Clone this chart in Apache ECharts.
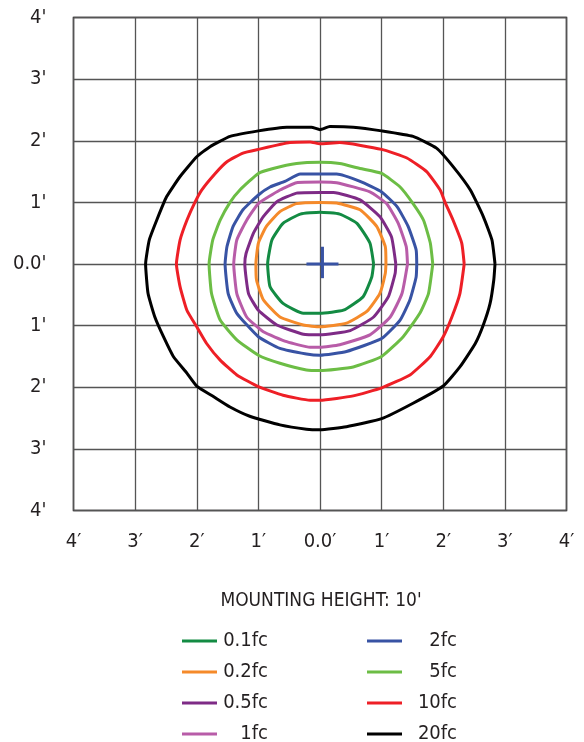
<!DOCTYPE html>
<html>
<head>
<meta charset="utf-8">
<script src="https://cdn.jsdelivr.net/npm/echarts@6/dist/echarts.min.js"></script>
<style>
  html, body { margin: 0; padding: 0; background: #fff; }
  #chart { width: 584px; height: 742px; }
</style>
</head>
<body>
<div id="chart"></div>
<script>
// iso-footcandle contours, feet from fixture centre (x, y)
const fc01 = [[0.87,0],[0.81,0.34],[0.60,0.66],[0.32,0.81],[0,0.84],[-0.32,0.81],[-0.60,0.66],[-0.78,0.39],[-0.85,0],[-0.81,-0.37],[-0.60,-0.64],[-0.27,-0.80],[0,-0.80],[0.38,-0.75],[0.70,-0.53],[0.84,-0.21],[0.87,0]];
const fc02 = [[1.07,0],[1.06,0.28],[0.92,0.61],[0.65,0.88],[0.27,0.99],[0,1.0],[-0.38,0.98],[-0.65,0.85],[-0.87,0.61],[-1.0,0.34],[-1.04,0],[-1.03,-0.26],[-0.92,-0.58],[-0.65,-0.86],[-0.27,-0.99],[0,-1.02],[0.43,-0.96],[0.76,-0.77],[0.97,-0.48],[1.06,-0.15],[1.07,0]];
const fc05 = [[1.23,0],[1.16,0.44],[0.97,0.77],[0.65,1.04],[0.22,1.16],[0,1.16],[-0.38,1.15],[-0.70,1.01],[-0.92,0.77],[-1.08,0.50],[-1.20,0.17],[-1.22,0],[-1.16,-0.48],[-1.0,-0.75],[-0.70,-0.99],[-0.27,-1.14],[0,-1.15],[0.49,-1.08],[0.87,-0.86],[1.11,-0.53],[1.22,-0.15],[1.23,0]];
const fc1 = [[1.42,0],[1.40,0.28],[1.27,0.66],[1.08,0.98],[0.81,1.17],[0.27,1.32],[0,1.33],[-0.38,1.32],[-0.65,1.20],[-1.0,0.98],[-1.19,0.71],[-1.35,0.39],[-1.40,0],[-1.35,-0.48],[-1.19,-0.86],[-0.92,-1.10],[-0.54,-1.26],[-0.16,-1.35],[0,-1.35],[0.32,-1.31],[0.81,-1.15],[1.14,-0.86],[1.33,-0.48],[1.42,0]];
const fc2 = [[1.57,0],[1.56,0.23],[1.43,0.61],[1.25,0.93],[1.0,1.17],[0.65,1.34],[0.27,1.46],[0,1.46],[-0.32,1.46],[-0.57,1.34],[-0.81,1.25],[-1.0,1.12],[-1.25,0.88],[-1.41,0.61],[-1.51,0.28],[-1.54,0],[-1.49,-0.48],[-1.35,-0.80],[-1.0,-1.18],[-0.65,-1.37],[-0.22,-1.46],[0,-1.48],[0.43,-1.42],[1.0,-1.21],[1.30,-0.91],[1.46,-0.58],[1.56,-0.21],[1.57,0]];
const fc5 = [[1.83,0],[1.79,0.34],[1.68,0.71],[1.51,0.98],[1.30,1.25],[1.0,1.47],[0.65,1.55],[0.32,1.63],[0,1.65],[-0.38,1.63],[-0.76,1.55],[-1.0,1.47],[-1.30,1.20],[-1.46,1.0],[-1.62,0.71],[-1.74,0.39],[-1.80,0],[-1.76,-0.48],[-1.62,-0.91],[-1.35,-1.23],[-1.0,-1.48],[-0.65,-1.61],[-0.22,-1.72],[0,-1.73],[0.54,-1.67],[1.0,-1.50],[1.35,-1.18],[1.62,-0.80],[1.76,-0.48],[1.83,0]];
const fc10 = [[2.34,0],[2.30,0.34],[2.16,0.71],[2.03,1.0],[1.95,1.20],[1.73,1.50],[1.41,1.72],[1.0,1.86],[0.32,1.97],[0,1.95],[-0.16,1.98],[-0.49,1.97],[-1.0,1.86],[-1.25,1.80],[-1.51,1.66],[-1.70,1.47],[-1.92,1.20],[-2.03,1.0],[-2.16,0.71],[-2.27,0.39],[-2.33,0],[-2.27,-0.37],[-2.16,-0.75],[-2.0,-1.02],[-1.84,-1.29],[-1.62,-1.56],[-1.35,-1.80],[-1.0,-1.99],[-0.60,-2.13],[-0.16,-2.21],[0,-2.21],[0.54,-2.14],[1.0,-2.01],[1.46,-1.80],[1.79,-1.50],[2.0,-1.18],[2.14,-0.86],[2.27,-0.48],[2.34,0]];
const fc20 = [[2.84,0],[2.79,0.39],[2.65,0.77],[2.44,1.20],[2.16,1.58],[1.89,1.88],[1.51,2.07],[1.0,2.16],[0.54,2.22],[0.16,2.23],[0,2.18],[-0.14,2.22],[-0.54,2.22],[-1.0,2.16],[-1.46,2.07],[-1.79,1.90],[-2.0,1.74],[-2.27,1.42],[-2.49,1.09],[-2.65,0.71],[-2.77,0.39],[-2.83,0],[-2.79,-0.48],[-2.68,-0.86],[-2.54,-1.18],[-2.38,-1.50],[-2.16,-1.77],[-2.0,-1.98],[-1.73,-2.15],[-1.46,-2.32],[-1.14,-2.47],[-0.65,-2.61],[-0.22,-2.68],[0,-2.69],[0.43,-2.64],[1.0,-2.51],[1.51,-2.26],[2.0,-1.98],[2.27,-1.67],[2.52,-1.29],[2.65,-0.99],[2.76,-0.64],[2.82,-0.26],[2.84,0]];

const crossH = [[-0.22,0],[0.30,0]];
const crossV = [[0.04,0.28],[0.04,-0.23]];

const names = ["0.1fc", "0.2fc", "0.5fc", "1fc", "2fc", "5fc", "10fc", "20fc"];
const colors = ["#138b43", "#f58a2a", "#7e2b86", "#b85ca8", "#3853a4", "#6cbd45", "#ee1f26", "#000000"];
const contours = [fc01, fc02, fc05, fc1, fc2, fc5, fc10, fc20];
const title = "MOUNTING HEIGHT: 10'";

const FONT = "'Liberation Sans Narrow', 'DejaVu Sans Condensed', sans-serif";

const chart = echarts.init(document.getElementById("chart"));

const series = contours.map((pts, i) => ({
  name: names[i],
  type: "line",
  data: pts,
  smooth: 0.15,
  showSymbol: false,
  silent: true,
  z: 10 - i,
  lineStyle: { color: colors[i], width: 3 },
}));
[crossH, crossV].forEach((pts) => {
  series.push({
    type: "line",
    data: pts,
    showSymbol: false,
    silent: true,
    z: 20,
    lineStyle: { color: "#3853a4", width: 3 },
  });
});

// legend drawn by hand so the labels can sit right-aligned like the sheet
const legendEls = [];
names.forEach((n, i) => {
  const col = Math.floor(i / 4);
  const row = i % 4;
  const y = 641 + row * 31;
  const x0 = col === 0 ? 182 : 367;
  const tx = col === 0 ? 268 : 457;
  legendEls.push({
    type: "line",
    shape: { x1: x0, y1: y, x2: x0 + 35, y2: y },
    style: { stroke: colors[i], lineWidth: 3 },
  });
  legendEls.push({
    type: "text",
    x: tx,
    y: y,
    style: {
      text: n,
      fill: "#231f20",
      font: "20px " + FONT,
      align: "right",
      verticalAlign: "middle",
    },
  });
});
legendEls.push({
  type: "text",
  x: 321,
  y: 601,
  style: {
    text: title,
    fill: "#231f20",
    font: "19px " + FONT,
    align: "center",
    verticalAlign: "middle",
  },
});

const option = {
  animation: false,
  backgroundColor: "#fff",
  grid: {
    left: 73.5, right: 17.5, top: 17.5, bottom: 231.5,
    show: true, borderColor: "#231f20", borderWidth: 1.5,
  },
  xAxis: {
    type: "value",
    min: -4, max: 4, interval: 1,
    axisLine: { show: false },
    axisTick: { show: false },
    splitLine: { lineStyle: { color: "#555", width: 1.3 } },
    axisLabel: {
      margin: 21,
      color: "#231f20",
      fontSize: 20,
      fontFamily: FONT,
      formatter: (v) => (v === 0 ? "0.0\u2032" : Math.abs(v) + "\u2032"),
    },
  },
  yAxis: {
    type: "value",
    min: -4, max: 4, interval: 1,
    axisLine: { show: false },
    axisTick: { show: false },
    splitLine: { lineStyle: { color: "#555", width: 1.3 } },
    axisLabel: {
      margin: 27,
      color: "#231f20",
      fontSize: 20,
      fontFamily: FONT,
      formatter: (v) => (v === 0 ? "0.0'" : Math.abs(v) + "'"),
    },
  },
  graphic: legendEls,
  series: series,
};

chart.setOption(option);
</script>
</body>
</html>
